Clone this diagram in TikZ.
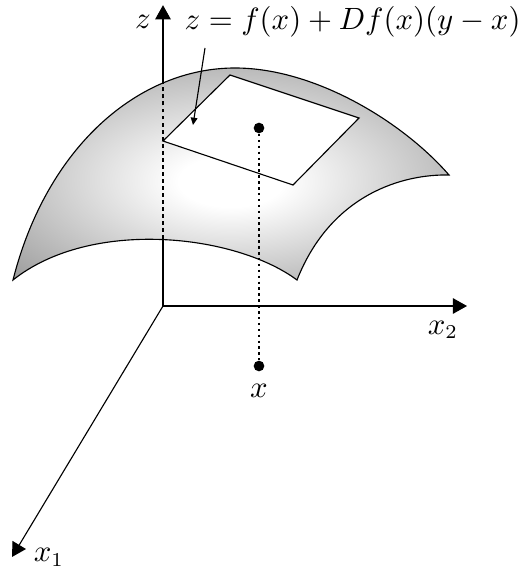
\documentclass[tikz,border=0pt]{standalone}
\usepackage{xcolor}
\usepackage{tikz}
\usetikzlibrary{arrows.meta, positioning}
\pgfdeclareradialshading{surfshade}{\pgfpoint{0bp}{-2bp}}{color(0bp)=(white); color(6bp)=(white); color(37bp)=(black!42); color(50bp)=(black!42)}

\begin{document}
\begin{tikzpicture}[
    font=\fontsize{10.5}{13}\selectfont,
    axis/.style={-{Triangle[length=5pt,width=5.5pt]}},
    hidden/.style={dash pattern=on 1.4pt off 1.1pt},
    drop/.style={semithick, dash pattern=on 0.9pt off 1.2pt},
    surface/.style={draw=black, shading=surfshade},
    plane/.style={draw=black, fill=white},
    pointer/.style={-{Triangle[length=2.6pt,width=2.4pt]}},
    dot/.style={circle, fill=black, inner sep=0pt, minimum size=3.8pt}
]
\useasboundingbox (-2.0375,-3.3625) rectangle (4.45,3.825);

\coordinate (O) at (0,0);
\coordinate (ztip) at (0,3.76);
\coordinate (x2tip) at (3.8,0);
\coordinate (x1tip) at (-1.8875,-3.1375);

% axes
\draw[axis] (O) -- (ztip);
\draw[axis] (O) -- (x2tip);
\draw[axis] (O) -- (x1tip);
\node (zlab) at (-0.25,3.55) {$z$};
\node (x2lab) at (3.5,-0.3) {$x_2$};
\node (x1lab) at (-1.425,-3.14) {$x_1$};

% graph of f
\coordinate (sA) at (-1.875,0.325);
\coordinate (sP) at (0.9,2.975);
\coordinate (sB) at (3.575,1.6375);
\coordinate (sC) at (1.675,0.325);
\draw[surface] (sA) .. controls (-1.45,2.0) and (-0.3,2.975) .. (sP)
    .. controls (1.9,2.975) and (3.0,2.3) .. (sB)
    .. controls (3.0,1.65) and (2.1,1.4) .. (sC)
    .. controls (0.9,0.9) and (-0.9,1.1) .. cycle;
\coordinate (zlo) at (0,0.75);
\coordinate (zhi) at (0,2.95);
\draw[hidden] (zlo) -- (zhi);

% tangent plane
\coordinate (tL) at (0,2.0625);
\coordinate (tT) at (0.8375,2.8875);
\coordinate (tR) at (2.45,2.35);
\coordinate (tB) at (1.625,1.5125);
\draw[plane] (tL) -- (tT) -- (tR) -- (tB) -- cycle;

\node[dot] (fx) at (1.2,2.225) {};
\node[dot] (xpt) at (1.2,-0.75) {};
\draw[drop] (fx) -- (xpt);
\node[below=1pt of xpt] (xlab) {$x$};

\node (tangent) at (2.37,3.55) {$z = f(x) + Df(x)(y-x)$};
\coordinate (ptail) at (0.525,3.225);
\coordinate (phead) at (0.375,2.2625);
\draw[pointer] (ptail) -- (phead);
\end{tikzpicture}
\end{document}
